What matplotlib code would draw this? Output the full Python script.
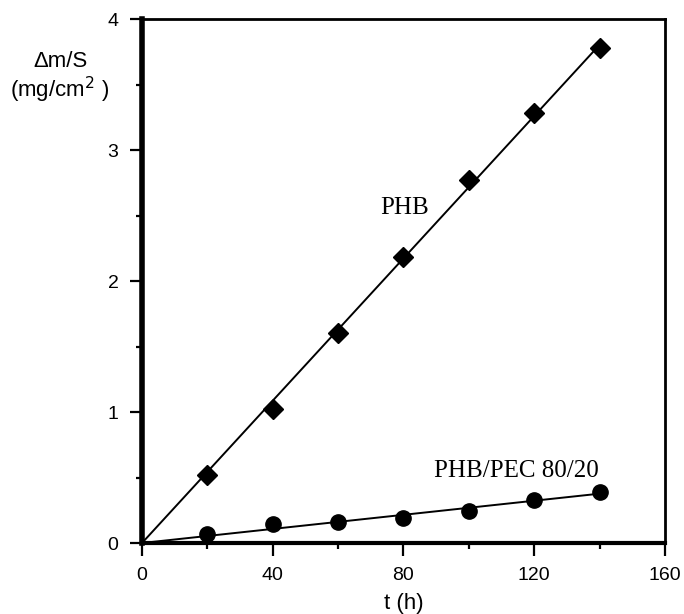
import numpy as np
import matplotlib
matplotlib.use("Agg")
import matplotlib.pyplot as plt
from matplotlib.ticker import MultipleLocator

# Mass loss per unit surface vs. time
t_hours = [20, 40, 60, 80, 100, 120, 140]
phb = [0.52, 1.02, 1.60, 2.18, 2.77, 3.28, 3.78]
phb_pec = [0.07, 0.145, 0.16, 0.19, 0.245, 0.33, 0.39]

x_ticks = [0, 40, 80, 120, 160]
y_ticks = [0, 1, 2, 3, 4]

fig = plt.figure(figsize=(6.84, 6.14), dpi=100)
ax = fig.add_axes([0.2076, 0.1156, 0.7646, 0.8534])

sans = "Liberation Sans"
serif = "Liberation Serif"


def origin_fit(x, y):
    x = np.asarray(x, float)
    y = np.asarray(y, float)
    return (x @ y) / (x @ x)


for y, marker, ms in ((phb, "D", 10), (phb_pec, "o", 11)):
    k = origin_fit(t_hours, y)
    xs = np.array([0, t_hours[-1]])
    ax.plot(xs, k * xs, color="black", lw=1.4, zorder=2)
    ax.plot(t_hours, y, linestyle="none", marker=marker, ms=ms,
            color="black", zorder=3)

ax.text(80.3, 2.56, "PHB", family=serif, fontsize=18, ha="center", va="center")
ax.text(114.4, 0.55, "PHB/PEC 80/20", family=serif, fontsize=18,
        ha="center", va="center")

ax.set_xlim(0, 160)
ax.set_ylim(0, 4)
ax.set_xticks(x_ticks)
ax.set_yticks(y_ticks)
ax.xaxis.set_minor_locator(MultipleLocator(20))
ax.yaxis.set_minor_locator(MultipleLocator(0.5))
ax.tick_params(which="major", direction="out", length=9, width=1.6,
               labelsize=14, pad=8)
ax.tick_params(which="minor", direction="out", length=4, width=1.6)
for lab in ax.get_xticklabels() + ax.get_yticklabels():
    lab.set_family(sans)

ax.spines["left"].set_linewidth(4)
ax.spines["bottom"].set_linewidth(3)
ax.spines["top"].set_linewidth(2)
ax.spines["right"].set_linewidth(2)

fig.text(404 / 684, 1 - 603 / 614, "t (h)", family=sans, fontsize=16,
         ha="center", va="center")
fig.text(60 / 684, 1 - 78 / 614, "Δm/S\n(mg/cm$^2$ )", family=sans,
         fontsize=16, ha="center", va="center", linespacing=1.15)

fig.savefig("out.png", dpi=100)
